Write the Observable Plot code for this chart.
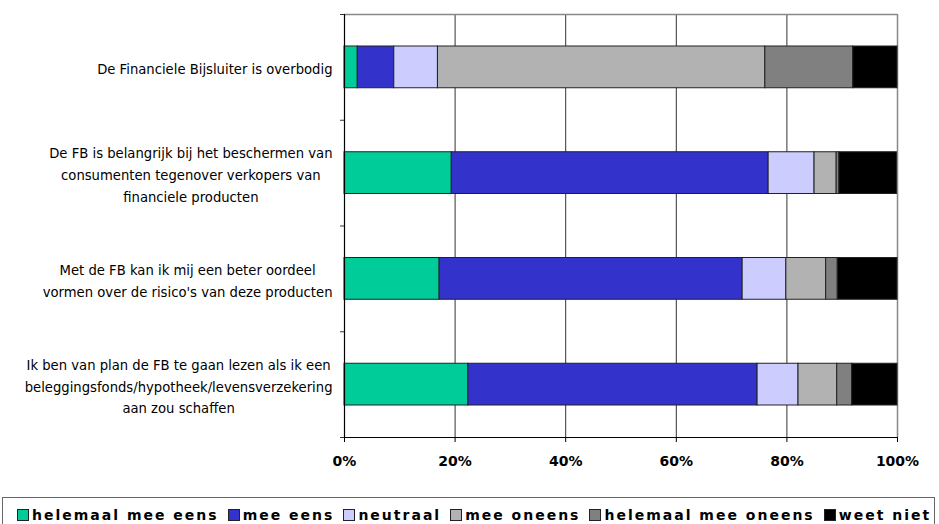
<!DOCTYPE html>
<html>
<head>
<meta charset="utf-8">
<script src="https://cdn.jsdelivr.net/npm/d3@7"></script>
<script src="https://cdn.jsdelivr.net/npm/@observablehq/plot@0.6"></script>
<style>
  html, body { margin: 0; padding: 0; background: #fff; overflow: hidden; }
  #chart { position: absolute; left: 0; top: 0; }
  #legend {
    position: absolute; left: 2px; top: 497px; width: 933px; height: 34px;
    border: 1px solid #666; box-sizing: border-box;
    display: flex; align-items: flex-start; padding: 9px 0 0 14px;
    font-family: "DejaVu Sans", sans-serif; font-weight: bold; font-size: 14px;
    letter-spacing: 2px; white-space: nowrap;
  }
  .item { display: flex; align-items: center; margin-right: 9px; }
  .sw { width: 10px; height: 10px; border: 1px solid #222; margin-right: 3px; }
</style>
</head>
<body>
<div id="chart"></div>
<div id="legend"></div>
<script>
const categories = [
  "De Financiele Bijsluiter is overbodig",
  "De FB is belangrijk bij het beschermen van\nconsumenten tegenover verkopers van\nfinanciele producten",
  "Met de FB kan ik mij een beter oordeel\nvormen over de risico's van deze producten",
  "Ik ben van plan de FB te gaan lezen als ik een\nbeleggingsfonds/hypotheek/levensverzekering\naan zou schaffen"
];
const responses = ["helemaal mee eens", "mee eens", "neutraal", "mee oneens", "helemaal mee oneens", "weet niet"];
const colors = ["#00CC99", "#3333CC", "#CCCCFF", "#B2B2B2", "#808080", "#000000"];
const helemaalMeeEens   = [2.4, 19.4, 17.2, 22.4];
const meeEens           = [6.6, 57.3, 54.8, 52.3];
const neutraal          = [7.9, 8.3, 7.9, 7.4];
const meeOneens         = [59.2, 4.0, 7.2, 7.0];
const helemaalMeeOneens = [15.9, 0.5, 2.1, 2.7];
const weetNiet          = [8.0, 10.4, 10.8, 8.2];
const xTicks = [0, 20, 40, 60, 80, 100];

const series = [helemaalMeeEens, meeEens, neutraal, meeOneens, helemaalMeeOneens, weetNiet];
const rows = [];
categories.forEach((c, i) => {
  let acc = 0;
  series.forEach((s, k) => {
    rows.push({i, response: responses[k], x1: acc, x2: acc + s[i]});
    acc += s[i];
  });
});

const labelSize = 13.2;
const ctx = document.createElement("canvas").getContext("2d");
ctx.font = labelSize + "px 'DejaVu Sans'";
const labelMarks = categories.map((c, i) => {
  const w = d3.max(c.split("\n"), l => ctx.measureText(l).width);
  return Plot.text([{i, c}], {
    y: d => d.i + 0.5, text: "c", frameAnchor: "left", textAnchor: "middle",
    dx: -(12 + w / 2), lineHeight: 1.64, fontSize: labelSize, fontFamily: "DejaVu Sans", fill: "#000"
  });
});

const chart = Plot.plot({
  width: 939, height: 495,
  marginLeft: 344, marginRight: 42, marginTop: 14, marginBottom: 58,
  style: {background: "#fff"},
  x: {domain: [0, 100]},
  y: {domain: [0, categories.length], reverse: true},
  color: {domain: responses, range: colors},
  marks: [
    Plot.ruleX([20, 40, 60, 80], {stroke: "#333", strokeWidth: 1}),
    Plot.ruleX([100], {stroke: "#888", strokeWidth: 1.5}),
    Plot.ruleY([0], {stroke: "#888", strokeWidth: 1.5}),
    Plot.rectX(rows, {
      x1: "x1", x2: "x2", y1: d => d.i, y2: d => d.i + 1,
      insetTop: 32, insetBottom: 32, fill: "response", stroke: "#222", strokeWidth: 1
    }),
    Plot.ruleX([0], {stroke: "#000", strokeWidth: 1.2}),
    Plot.ruleY([categories.length], {stroke: "#000", strokeWidth: 1.2}),
    Plot.axisY({ticks: d3.range(categories.length + 1), tickSize: 4, tickFormat: () => "", label: null, stroke: "#333"}),
    Plot.axisX({ticks: xTicks, tickSize: 5, tickPadding: 14, tickFormat: d => d + "%", label: null,
      fontSize: 14, fontWeight: "bold", fontFamily: "DejaVu Sans", stroke: "#000", fill: "#000"}),
    ...labelMarks
  ]
});
document.getElementById("chart").appendChild(chart);

const legend = document.getElementById("legend");
responses.forEach((r, k) => {
  const it = document.createElement("div");
  it.className = "item";
  const sw = document.createElement("div");
  sw.className = "sw";
  sw.style.background = colors[k];
  const t = document.createElement("span");
  t.textContent = r;
  it.appendChild(sw); it.appendChild(t);
  legend.appendChild(it);
});
</script>
</body>
</html>
